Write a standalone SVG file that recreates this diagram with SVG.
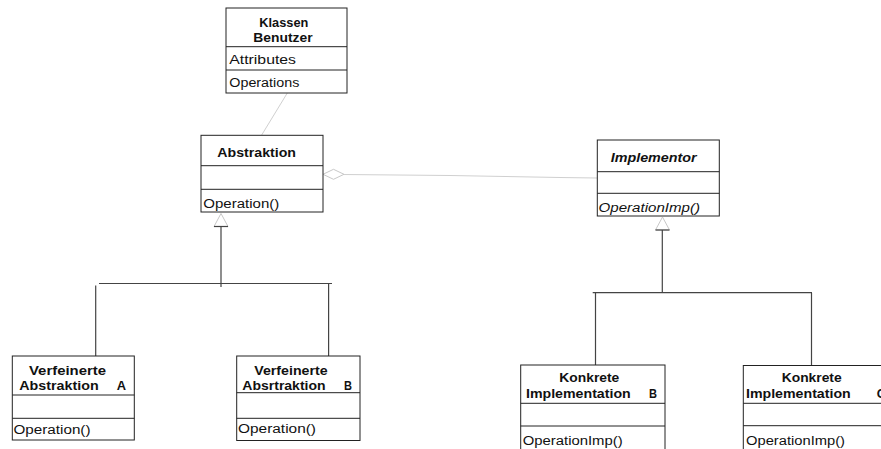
<svg xmlns="http://www.w3.org/2000/svg" width="881" height="449" viewBox="0 0 881 449">
  <style>
    .box { fill: #ffffff; stroke: #222222; stroke-width: 1; }
    .div { stroke: #222222; stroke-width: 1; }
    .t { font-family: "Liberation Sans", Arial, sans-serif; font-size: 12.5px; fill: #111111; }
    .b { font-weight: bold; }
    .i { font-style: italic; }
    .wire { stroke: #444444; stroke-width: 1.2; fill: none; }
    .faint { stroke: #d0d0d0; stroke-width: 1; fill: none; }
    .hollow { fill: #ffffff; stroke: #c8c8c8; stroke-width: 1; }
  </style>

  <!-- connectors -->
  <g id="connectors">
    <!-- association from Klassen Benutzer to Abstraktion -->
    <line class="faint" x1="287.3" y1="93" x2="261.7" y2="135"/>
    <!-- aggregation Abstraktion <>- Implementor -->
    <polyline class="faint" points="344,174.5 450,175.5 560,177.5 597,178"/>
    <polygon class="hollow" points="323,174.3 333.5,169.3 344,174.3 333.5,179.3"/>

    <!-- generalisation tree under Abstraktion -->
    <polygon class="hollow" points="221,213.5 214,226.5 228,226.5"/>
    <line class="wire" x1="214" y1="226.5" x2="228" y2="226.5"/>
    <line class="wire" x1="221" y1="226.5" x2="221" y2="287"/>
    <line class="wire" x1="99" y1="283.5" x2="332" y2="283.5"/>
    <line class="wire" x1="95.7" y1="285.5" x2="95.7" y2="356"/>
    <line class="wire" x1="328.6" y1="283.5" x2="328.6" y2="356"/>

    <!-- generalisation tree under Implementor -->
    <polygon class="hollow" points="662.5,217 655.5,230 669.5,230"/>
    <line class="wire" x1="655.5" y1="230" x2="669.5" y2="230"/>
    <line class="wire" x1="662.3" y1="230" x2="662.3" y2="292.7"/>
    <line class="wire" x1="592.7" y1="292.7" x2="812" y2="292.7"/>
    <line class="wire" x1="595.5" y1="292.7" x2="595.5" y2="365"/>
    <line class="wire" x1="811.5" y1="292.7" x2="811.5" y2="365.5"/>
  </g>

  <!-- Klassen Benutzer -->
  <g id="klassen-benutzer">
    <rect class="box" x="226" y="8" width="121" height="85"/>
    <line class="div" x1="226" y1="46.7" x2="347" y2="46.7"/>
    <line class="div" x1="226" y1="70" x2="347" y2="70"/>
    <text class="t b" x="259.3" y="27" textLength="49" lengthAdjust="spacingAndGlyphs">Klassen</text>
    <text class="t b" x="253.3" y="42" textLength="59.3" lengthAdjust="spacingAndGlyphs">Benutzer</text>
    <text class="t" x="229.3" y="64" textLength="66.7" lengthAdjust="spacingAndGlyphs">Attributes</text>
    <text class="t" x="229.3" y="87.3" textLength="70" lengthAdjust="spacingAndGlyphs">Operations</text>
  </g>

  <!-- Abstraktion -->
  <g id="abstraktion">
    <rect class="box" x="201" y="135.3" width="122" height="76.7"/>
    <line class="div" x1="201" y1="165.7" x2="323" y2="165.7"/>
    <line class="div" x1="201" y1="189.3" x2="323" y2="189.3"/>
    <text class="t b" x="217.3" y="157.3" textLength="78.7" lengthAdjust="spacingAndGlyphs">Abstraktion</text>
    <text class="t" x="203.3" y="208.3" textLength="76" lengthAdjust="spacingAndGlyphs">Operation()</text>
  </g>

  <!-- Implementor -->
  <g id="implementor">
    <rect class="box" x="597.3" y="140" width="122" height="76"/>
    <line class="div" x1="597.3" y1="171.7" x2="719.3" y2="171.7"/>
    <line class="div" x1="597.3" y1="193.3" x2="719.3" y2="193.3"/>
    <text class="t b i" x="610.7" y="161.7" textLength="86" lengthAdjust="spacingAndGlyphs">Implementor</text>
    <text class="t i" x="598.5" y="211.7" textLength="101.5" lengthAdjust="spacingAndGlyphs">OperationImp()</text>
  </g>

  <!-- Verfeinerte Abstraktion A -->
  <g id="verfeinerte-a">
    <rect class="box" x="12.3" y="356" width="122" height="84"/>
    <line class="div" x1="12.3" y1="395" x2="134.3" y2="395"/>
    <line class="div" x1="12.3" y1="418.3" x2="134.3" y2="418.3"/>
    <text class="t b" x="29" y="375" textLength="77" lengthAdjust="spacingAndGlyphs">Verfeinerte</text>
    <text class="t b" x="19.3" y="390" textLength="79.3" lengthAdjust="spacingAndGlyphs">Abstraktion</text>
    <text class="t b" x="116.7" y="390" textLength="9.3" lengthAdjust="spacingAndGlyphs">A</text>
    <text class="t" x="13.5" y="434" textLength="77" lengthAdjust="spacingAndGlyphs">Operation()</text>
  </g>

  <!-- Verfeinerte Absrtraktion B -->
  <g id="verfeinerte-b">
    <rect class="box" x="236.7" y="356" width="123.3" height="84.5"/>
    <line class="div" x1="236.7" y1="392.7" x2="360" y2="392.7"/>
    <line class="div" x1="236.7" y1="418.3" x2="360" y2="418.3"/>
    <text class="t b" x="254.3" y="375" textLength="73.3" lengthAdjust="spacingAndGlyphs">Verfeinerte</text>
    <text class="t b" x="242.3" y="390" textLength="83.3" lengthAdjust="spacingAndGlyphs">Absrtraktion</text>
    <text class="t b" x="344" y="390" textLength="8" lengthAdjust="spacingAndGlyphs">B</text>
    <text class="t" x="238" y="433.3" textLength="78" lengthAdjust="spacingAndGlyphs">Operation()</text>
  </g>

  <!-- Konkrete Implementation B -->
  <g id="konkrete-b">
    <rect class="box" x="520.7" y="365" width="144.3" height="95"/>
    <line class="div" x1="520.7" y1="403.3" x2="665" y2="403.3"/>
    <line class="div" x1="520.7" y1="426" x2="665" y2="426"/>
    <text class="t b" x="559.3" y="382.3" textLength="60" lengthAdjust="spacingAndGlyphs">Konkrete</text>
    <text class="t b" x="526" y="398.3" textLength="104.7" lengthAdjust="spacingAndGlyphs">Implementation</text>
    <text class="t b" x="649" y="398.3" textLength="8" lengthAdjust="spacingAndGlyphs">B</text>
    <text class="t" x="522.7" y="445" textLength="100" lengthAdjust="spacingAndGlyphs">OperationImp()</text>
  </g>

  <!-- Konkrete Implementation C -->
  <g id="konkrete-c">
    <rect class="box" x="743.3" y="365.5" width="160" height="95"/>
    <line class="div" x1="743.3" y1="403.3" x2="881" y2="403.3"/>
    <line class="div" x1="743.3" y1="425.7" x2="881" y2="425.7"/>
    <text class="t b" x="781.7" y="382.3" textLength="60" lengthAdjust="spacingAndGlyphs">Konkrete</text>
    <text class="t b" x="746" y="398.3" textLength="104.7" lengthAdjust="spacingAndGlyphs">Implementation</text>
    <text class="t b" x="876.7" y="398.3" textLength="9" lengthAdjust="spacingAndGlyphs">C</text>
    <text class="t" x="746" y="445" textLength="99" lengthAdjust="spacingAndGlyphs">OperationImp()</text>
  </g>
</svg>
